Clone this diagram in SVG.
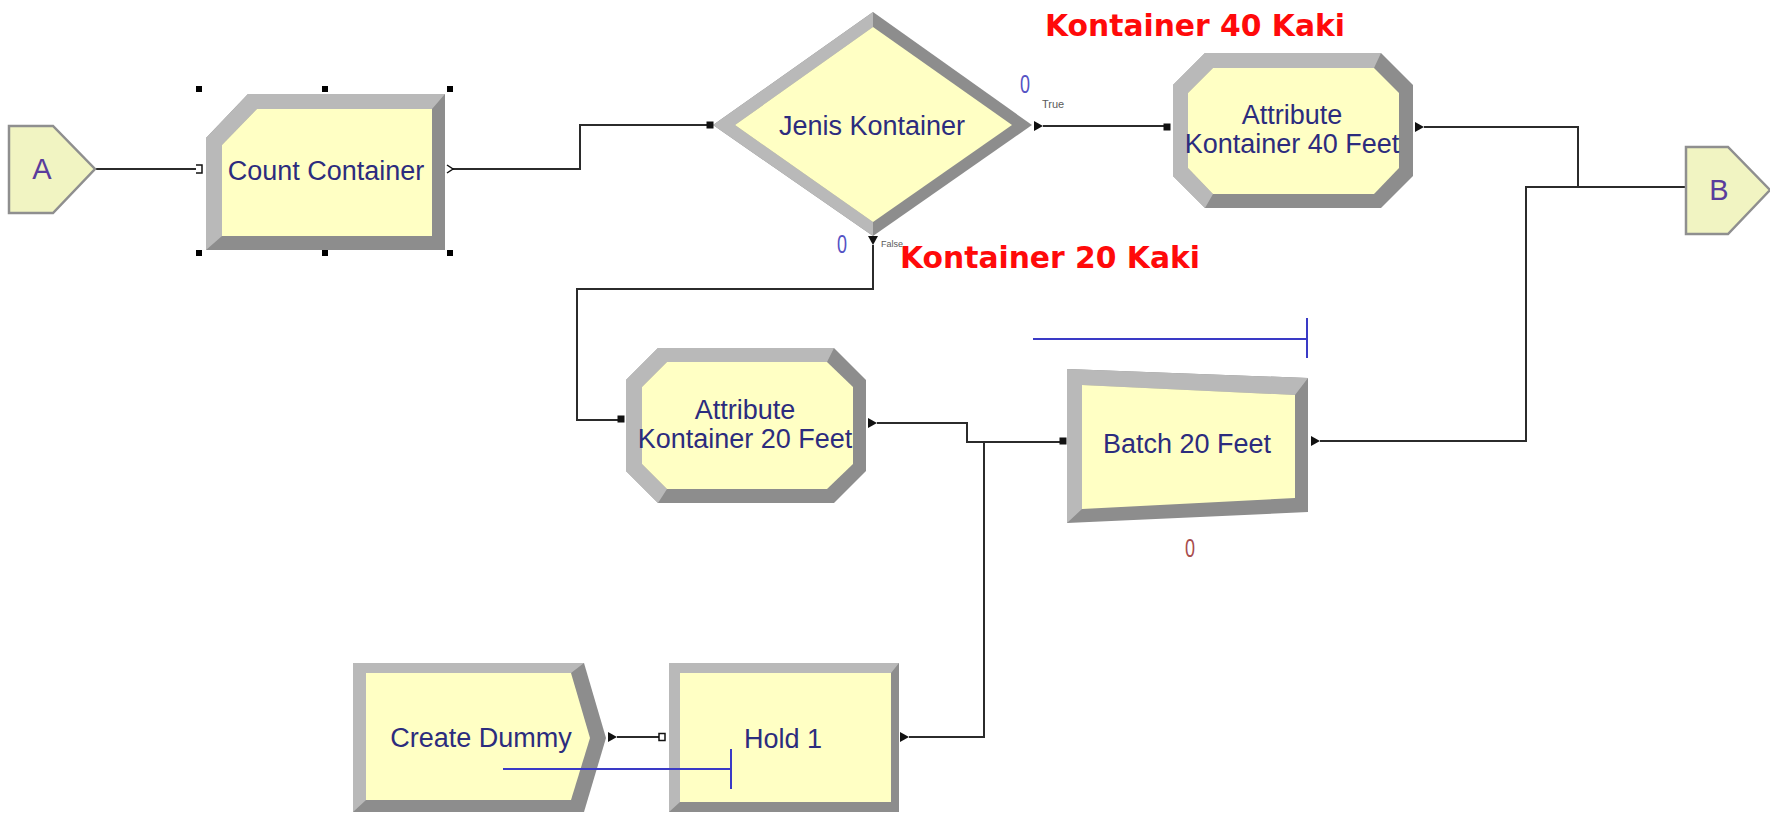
<svg xmlns="http://www.w3.org/2000/svg" xmlns:xlink="http://www.w3.org/1999/xlink" width="1770" height="813" viewBox="0 0 1770 813">
<style>
.bg{fill:#ffffff}
.yf{fill:#ffffc4}
.lt{fill:#b9b9b9}
.dk{fill:#8d8d8d}
.pg{fill:#f1f4c2;stroke:#8f8f8f;stroke-width:2.5}
.pgt{font-family:"Liberation Sans",Arial,sans-serif;font-size:29px;fill:#5a3c9c;text-anchor:middle}
.lbl{font-family:"Liberation Sans",Arial,sans-serif;font-size:27px;fill:#2c2c7e;text-anchor:middle}
.conn{fill:none;stroke:#2b2b2b;stroke-width:2}
.q{fill:none;stroke:#3a3ac6;stroke-width:2}
.red{font-family:"DejaVu Sans",Verdana,sans-serif;font-weight:bold;font-size:30px;fill:#ff0a0a}
.zero{font-family:"Liberation Sans",Arial,sans-serif;font-size:26px;fill:#5552c4;text-anchor:middle}
.small{font-family:"Liberation Sans",Arial,sans-serif;font-size:11px;fill:#5a5a5a}
.port{fill:#111111}
.hport{fill:#ffffff;stroke:#111111;stroke-width:1.5}
.hnd{fill:#000000}
</style>
<defs>
<path id="outP" d="M0,-5 L9,0 L0,5 Z"/>
<rect id="inP" x="-3.5" y="-3.5" width="7" height="7"/>
</defs>
<rect class="bg" x="0" y="0" width="1770" height="813"/>

<g id="connectors">
<path class="conn" d="M95,169 H197"/>
<path class="conn" d="M453,169 H580 V125 H707"/>
<path class="conn" d="M1043,126 H1164"/>
<path class="conn" d="M873,245 V289 H577 V420 H618"/>
<path class="conn" d="M1424,127 H1578 V187"/>
<path class="conn" d="M1320,441 H1526 V187 H1686"/>
<path class="conn" d="M877,423 H967 V442 H1060"/>
<path class="conn" d="M909,737 H984 V442"/>
<path class="conn" d="M617,737 H659"/>
</g>

<g id="nodeA">
<polygon class="pg" points="9,126 53,126 95,169 53,213 9,213"/>
<text class="pgt" x="42" y="179">A</text>
</g>

<g id="nodeB">
<polygon class="pg" points="1686,147 1728,147 1770,190 1728,234 1686,234"/>
<text class="pgt" x="1719" y="200">B</text>
</g>

<g id="countContainer">
<polygon class="dk" points="206,138 248,94 445,94 445,250 206,250"/>
<polygon class="lt" points="206,250 206,138 248,94 445,94 432,109 257,109 222,145 222,236"/>
<polygon class="yf" points="222,145 257,109 432,109 432,236 222,236"/>
<text class="lbl" x="326" y="180">Count Container</text>
<path class="hport" d="M196,165 H202 V173 H196"/>
<path class="hport" d="M447,165 L453,169 L447,173"/>
<rect class="hnd" x="196" y="86" width="6" height="6"/>
<rect class="hnd" x="322" y="86" width="6" height="6"/>
<rect class="hnd" x="447" y="86" width="6" height="6"/>
<rect class="hnd" x="196" y="250" width="6" height="6"/>
<rect class="hnd" x="322" y="250" width="6" height="6"/>
<rect class="hnd" x="447" y="250" width="6" height="6"/>
</g>

<g id="jenisKontainer">
<polygon class="dk" points="713,125 873,12 1032,125 873,236"/>
<polygon class="lt" points="873,236 713,125 873,12 873,27 735,125 873,222"/>
<polygon class="yf" points="735,125 873,27 1012,125 873,222"/>
<text class="lbl" x="872" y="135">Jenis Kontainer</text>
<use href="#inP" class="port" x="710" y="125"/>
<use href="#outP" class="port" x="1034" y="126"/>
<use href="#outP" class="port" transform="translate(873,236) rotate(90)"/>
<text class="zero" x="1025" y="93" textLength="10" lengthAdjust="spacingAndGlyphs">0</text>
<text class="small" x="1042" y="108">True</text>
<text class="zero" x="842" y="253" textLength="10" lengthAdjust="spacingAndGlyphs">0</text>
<text class="small" x="881" y="247" style="font-size:9px">False</text>
</g>

<g id="attr40">
<polygon class="dk" points="1205,53 1381,53 1413,85 1413,176 1381,208 1205,208 1173,176 1173,85"/>
<polygon class="lt" points="1205,208 1173,176 1173,85 1205,53 1381,53 1374,68 1213,68 1188,93 1188,168 1213,194"/>
<polygon class="yf" points="1213,68 1374,68 1399,93 1399,168 1374,194 1213,194 1188,168 1188,93"/>
<text class="lbl" x="1292" y="124">Attribute</text>
<text class="lbl" x="1292" y="153">Kontainer 40 Feet</text>
<use href="#inP" class="port" x="1167" y="127"/>
<use href="#outP" class="port" x="1415" y="127"/>
</g>

<g id="attr20">
<polygon class="dk" points="658,348 834,348 866,380 866,471 834,503 658,503 626,471 626,380"/>
<polygon class="lt" points="658,503 626,471 626,380 658,348 834,348 827,362 667,362 642,387 642,464 667,489"/>
<polygon class="yf" points="667,362 827,362 853,387 853,464 827,489 667,489 642,464 642,387"/>
<text class="lbl" x="745" y="419">Attribute</text>
<text class="lbl" x="745" y="448">Kontainer 20 Feet</text>
<use href="#inP" class="port" x="621" y="419"/>
<use href="#outP" class="port" x="868" y="423"/>
</g>

<g id="batch20">
<polygon class="dk" points="1067,369 1308,378 1308,512 1067,523"/>
<polygon class="lt" points="1067,523 1067,369 1308,378 1295,395 1082,385 1082,509"/>
<polygon class="yf" points="1082,385 1295,395 1295,498 1082,509"/>
<text class="lbl" x="1187" y="453">Batch 20 Feet</text>
<use href="#inP" class="port" x="1063" y="441"/>
<use href="#outP" class="port" x="1311" y="441"/>
<path class="q" d="M1033,339 H1307 M1307,318 V358"/>
<text class="zero" x="1190" y="557" textLength="10" lengthAdjust="spacingAndGlyphs" style="fill:#a84c4c">0</text>
</g>

<g id="createDummy">
<polygon class="dk" points="353,663 584,663 606,738 584,812 353,812"/>
<polygon class="lt" points="353,812 353,663 584,663 571,673 366,673 366,800"/>
<polygon class="yf" points="366,673 571,673 590,738 571,800 366,800"/>
<text class="lbl" x="481" y="747">Create Dummy</text>
<use href="#outP" class="port" x="608" y="737"/>
</g>

<g id="hold1">
<polygon class="dk" points="669,663 899,663 899,812 669,812"/>
<polygon class="lt" points="669,812 669,663 899,663 891,673 680,673 680,802"/>
<rect class="yf" x="680" y="673" width="211" height="129"/>
<text class="lbl" x="783" y="748">Hold 1</text>
<rect class="hport" x="659" y="733.5" width="6" height="7"/>
<use href="#outP" class="port" x="900" y="737"/>
<path class="q" d="M503,769 H731 M731,749 V789"/>
</g>

<g id="labels">
<text class="red" x="1045" y="36" textLength="300" lengthAdjust="spacingAndGlyphs">Kontainer 40 Kaki</text>
<text class="red" x="900" y="268" textLength="300" lengthAdjust="spacingAndGlyphs">Kontainer 20 Kaki</text>
</g>
</svg>
